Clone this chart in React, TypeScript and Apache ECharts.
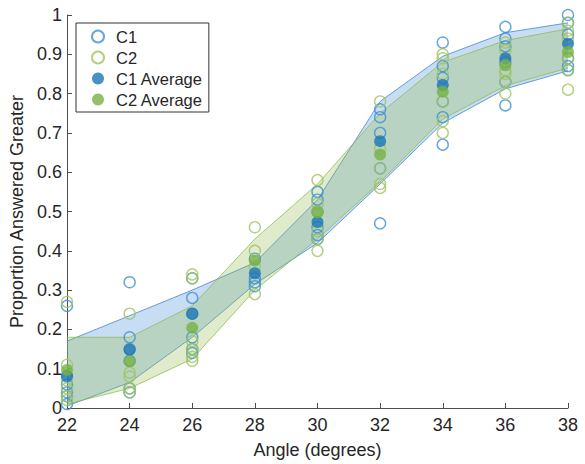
import React, { useEffect, useRef } from "react";
import * as echarts from "echarts";

const angles = [22, 24, 26, 28, 30, 32, 34, 36, 38];

const c1Points: number[][] = [
  [0.26, 0.08, 0.06, 0.04, 0.03, 0.01],
  [0.32, 0.18, 0.15, 0.12, 0.05, 0.04],
  [0.33, 0.28, 0.24, 0.18, 0.15, 0.14],
  [0.38, 0.33, 0.32, 0.31],
  [0.55, 0.53, 0.5, 0.46, 0.44, 0.43],
  [0.76, 0.74, 0.7, 0.61, 0.47],
  [0.93, 0.87, 0.84, 0.78, 0.74, 0.67],
  [0.97, 0.94, 0.92, 0.88, 0.83, 0.77],
  [1.0, 0.98, 0.95, 0.89, 0.87, 0.86],
];

const c2Points: number[][] = [
  [0.27, 0.11, 0.07, 0.05, 0.03, 0.02],
  [0.24, 0.09, 0.08, 0.05, 0.04],
  [0.34, 0.33, 0.17, 0.15, 0.13, 0.12],
  [0.46, 0.4, 0.36, 0.29],
  [0.58, 0.52, 0.5, 0.45, 0.43, 0.4],
  [0.78, 0.66, 0.61, 0.57, 0.56],
  [0.9, 0.89, 0.85, 0.78, 0.73, 0.7],
  [0.93, 0.91, 0.86, 0.83, 0.8, 0.85],
  [0.98, 0.96, 0.94, 0.89, 0.86, 0.81],
];

const c1Average = [0.082, 0.148, 0.24, 0.343, 0.473, 0.679, 0.822, 0.89, 0.927];
const c2Average = [0.097, 0.119, 0.204, 0.375, 0.498, 0.645, 0.805, 0.872, 0.906];

const c1Upper = [0.17, 0.235, 0.3, 0.37, 0.53, 0.78, 0.895, 0.955, 0.98];
const c1Lower = [0.005, 0.065, 0.18, 0.315, 0.42, 0.57, 0.725, 0.812, 0.858];
const c2Upper = [0.18, 0.18, 0.26, 0.43, 0.57, 0.75, 0.88, 0.935, 0.965];
const c2Lower = [0.01, 0.05, 0.125, 0.3, 0.43, 0.575, 0.735, 0.82, 0.865];

const yTicks = [0, 0.1, 0.2, 0.3, 0.4, 0.5, 0.6, 0.7, 0.8, 0.9, 1];

const FONT = "Liberation Sans, Arial, Helvetica, sans-serif";

function bandSeries(upper: number[], lower: number[], fill: string, stroke: string) {
  return {
    type: "custom",
    silent: true,
    data: angles.map((a, i) => [a, lower[i], upper[i]]),
    encode: { x: 0, y: [1, 2] },
    renderItem: (params: any, api: any) => {
      if (params.dataIndex !== 0) return { type: "group", children: [] };
      const up = angles.map((a, i) => api.coord([a, upper[i]]));
      const lo = angles.map((a, i) => api.coord([a, lower[i]]));
      const poly = up.concat(lo.slice().reverse());
      return {
        type: "group",
        children: [
          { type: "polygon", shape: { points: poly }, style: { fill, stroke: "none" } },
          { type: "polyline", shape: { points: up }, style: { stroke, lineWidth: 1, fill: null } },
          { type: "polyline", shape: { points: lo }, style: { stroke, lineWidth: 1, fill: null } },
        ],
      };
    },
    z: 1,
  };
}

function flatten(points: number[][]) {
  const out: number[][] = [];
  points.forEach((arr, i) => arr.forEach((v) => out.push([angles[i], v])));
  return out;
}

export default function App() {
  const ref = useRef<HTMLDivElement>(null);
  useEffect(() => {
    if (!ref.current) return;
    const chart = echarts.init(ref.current, null, { renderer: "svg" });
    const option: any = {
      animation: false,
      backgroundColor: "#ffffff",
      textStyle: { fontFamily: FONT },
      grid: { left: 67, right: 17, top: 15, bottom: 54, containLabel: false },
      legend: {
        data: ["C1", "C2", "C1 Average", "C2 Average"],
        orient: "vertical",
        left: 76,
        top: 23,
        padding: [5, 6, 4, 15],
        itemWidth: 12,
        itemHeight: 12,
        itemGap: 4,
        backgroundColor: "#ffffff",
        borderColor: "#333333",
        borderWidth: 1,
        borderRadius: 0,
        textStyle: { fontFamily: FONT, fontSize: 16.5, color: "#262626", padding: [0, 0, 0, 7] },
      },
      xAxis: {
        type: "value",
        min: 22,
        max: 38,
        interval: 2,
        name: "Angle (degrees)",
        nameLocation: "middle",
        nameGap: 33,
        nameTextStyle: { fontFamily: FONT, fontSize: 18, color: "#262626" },
        axisLine: { show: true, lineStyle: { color: "#4d4d4d", width: 1 } },
        axisTick: { show: true, inside: true, length: 5, lineStyle: { color: "#4d4d4d" } },
        axisLabel: { fontFamily: FONT, fontSize: 18, color: "#262626", margin: 8 },
        splitLine: { show: false },
      },
      yAxis: {
        type: "value",
        min: 0,
        max: 1,
        interval: 0.1,
        name: "Proportion Answered Greater",
        nameLocation: "middle",
        nameGap: 35,
        nameTextStyle: { fontFamily: FONT, fontSize: 18, color: "#262626" },
        axisLine: { show: true, lineStyle: { color: "#4d4d4d", width: 1 } },
        axisTick: { show: true, inside: true, length: 5, lineStyle: { color: "#4d4d4d" } },
        axisLabel: {
          fontFamily: FONT,
          fontSize: 18,
          color: "#262626",
          margin: 5,
          formatter: (v: number) => {
            const t = yTicks.find((k) => Math.abs(k - v) < 1e-6);
            return String(t !== undefined ? t : v);
          },
        },
        splitLine: { show: false },
      },
      series: [
        bandSeries(c1Upper, c1Lower, "rgba(95,158,222,0.35)", "rgba(80,140,210,0.85)"),
        bandSeries(c2Upper, c2Lower, "rgba(150,190,80,0.3)", "rgba(140,185,80,0.75)"),
        {
          name: "C1",
          type: "scatter",
          data: flatten(c1Points),
          symbol: "circle",
          symbolSize: 11,
          itemStyle: { color: "rgba(255,255,255,0)", borderColor: "#3f8fd2", borderWidth: 1.4 },
          z: 3,
        },
        {
          name: "C2",
          type: "scatter",
          data: flatten(c2Points),
          symbol: "circle",
          symbolSize: 11,
          itemStyle: { color: "rgba(255,255,255,0)", borderColor: "#9dc462", borderWidth: 1.4 },
          z: 3,
        },
        {
          name: "C1 Average",
          type: "scatter",
          data: angles.map((a, i) => [a, c1Average[i]]),
          symbol: "circle",
          symbolSize: 12,
          itemStyle: { color: "#1a75b7" },
          z: 4,
        },
        {
          name: "C2 Average",
          type: "scatter",
          data: angles.map((a, i) => [a, c2Average[i]]),
          symbol: "circle",
          symbolSize: 12,
          itemStyle: { color: "#78b243" },
          z: 4,
        },
      ],
    };
    chart.setOption(option);
    return () => chart.dispose();
  }, []);
  return (
    <div
      ref={ref}
      style={{ position: "fixed", left: 0, top: 0, width: 585, height: 464, background: "#fff" }}
    />
  );
}
